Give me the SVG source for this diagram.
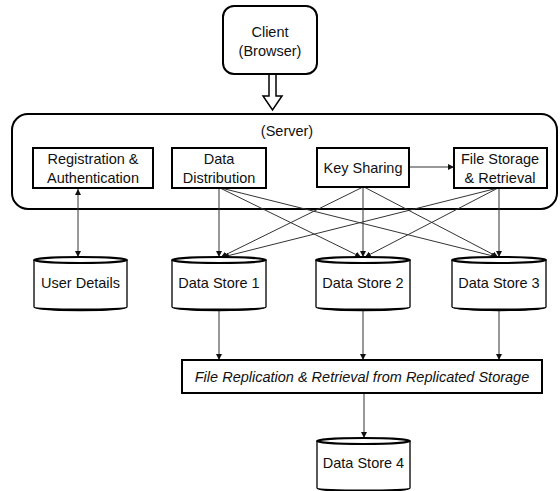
<svg xmlns="http://www.w3.org/2000/svg" width="560" height="491" viewBox="0 0 560 491">
<defs>
<style>
text{font-family:"Liberation Sans",Arial,sans-serif;font-size:14.5px;fill:#111;text-anchor:middle}
.it{font-style:italic;font-size:14.5px}
.box{fill:#fff;stroke:#000;stroke-width:2}
.cyl{fill:#fff;stroke:#000;stroke-width:1.3}
.ctop{fill:#fff;stroke:#000;stroke-width:2}
.con{stroke:#333;stroke-width:1;fill:none}
</style>
<marker id="ah" viewBox="0 0 10 10" refX="10" refY="5" markerWidth="6" markerHeight="6" markerUnits="userSpaceOnUse" orient="auto-start-reverse">
<path d="M0,0 L10,5 L0,10 Z" fill="#111"/>
</marker>
</defs>
<rect width="560" height="491" fill="#fff"/>

<g id="server">
<rect x="12" y="114" width="545" height="95" rx="16" fill="#fff" stroke="#000" stroke-width="2"/>
<text x="287" y="136">(Server)</text>
</g>

<g id="connectors">
<path d="M269,74 V96 H263 L272.5,110 L282,96 H276 V74" fill="#fff" stroke="#000" stroke-width="1.5"/>
<line class="con" x1="78" y1="189" x2="78" y2="257" marker-start="url(#ah)" marker-end="url(#ah)"/>
<line class="con" x1="219" y1="188" x2="219" y2="257" marker-end="url(#ah)"/>
<line class="con" x1="220" y1="188" x2="361" y2="257" marker-end="url(#ah)"/>
<line class="con" x1="221" y1="188" x2="497" y2="257" marker-end="url(#ah)"/>
<line class="con" x1="363" y1="187" x2="221" y2="257" marker-end="url(#ah)"/>
<line class="con" x1="363" y1="187" x2="363" y2="257" marker-end="url(#ah)"/>
<line class="con" x1="364" y1="187" x2="498" y2="257" marker-end="url(#ah)"/>
<line class="con" x1="498" y1="188" x2="223" y2="257" marker-end="url(#ah)"/>
<line class="con" x1="498" y1="188" x2="365" y2="257" marker-end="url(#ah)"/>
<line class="con" x1="499" y1="188" x2="499" y2="257" marker-end="url(#ah)"/>
<line class="con" x1="409" y1="167" x2="454" y2="167" marker-end="url(#ah)"/>
<line class="con" x1="219" y1="310" x2="219" y2="360" marker-end="url(#ah)"/>
<line class="con" x1="363" y1="310" x2="363" y2="360" marker-end="url(#ah)"/>
<line class="con" x1="499" y1="310" x2="499" y2="360" marker-end="url(#ah)"/>
<line class="con" x1="364" y1="393" x2="364" y2="438" marker-end="url(#ah)"/>
</g>

<g id="client">
<rect x="223" y="6" width="94" height="68" rx="11" class="box"/>
<text x="270" y="37">Client</text>
<text x="270" y="56">(Browser)</text>
</g>

<g id="registration">
<rect x="33" y="148" width="120" height="40" class="box"/>
<text x="93" y="164">Registration &amp;</text>
<text x="93" y="183">Authentication</text>
</g>

<g id="data-distribution">
<rect x="172" y="148" width="94" height="40" class="box"/>
<text x="219" y="164">Data</text>
<text x="219" y="183">Distribution</text>
</g>

<g id="key-sharing">
<rect x="317" y="148" width="92" height="39" class="box"/>
<text x="363" y="173">Key Sharing</text>
</g>

<g id="file-storage">
<rect x="454" y="148" width="93" height="40" class="box"/>
<text x="500" y="164">File Storage</text>
<text x="500" y="183">&amp; Retrieval</text>
</g>

<g id="user-details">
<path class="cyl" d="M34,260 V307 A46.5,3.5 0 0 0 127,307 V260"/>
<path d="M34,307 A46.5,4 0 0 0 127,307 A46.5,1.5 0 0 1 34,307 Z" fill="#000"/>
<ellipse class="ctop" cx="80.5" cy="260" rx="46.5" ry="3"/>
<text x="80.5" y="288">User Details</text>
</g>

<g id="data-store-1">
<path class="cyl" d="M172,260 V307 A47,3.5 0 0 0 266,307 V260"/>
<path d="M172,307 A47,4 0 0 0 266,307 A47,1.5 0 0 1 172,307 Z" fill="#000"/>
<ellipse class="ctop" cx="219" cy="260" rx="47" ry="3"/>
<text x="219" y="288">Data Store 1</text>
</g>

<g id="data-store-2">
<path class="cyl" d="M316,260 V307 A47,3.5 0 0 0 410,307 V260"/>
<path d="M316,307 A47,4 0 0 0 410,307 A47,1.5 0 0 1 316,307 Z" fill="#000"/>
<ellipse class="ctop" cx="363" cy="260" rx="47" ry="3"/>
<text x="363" y="288">Data Store 2</text>
</g>

<g id="data-store-3">
<path class="cyl" d="M452,260 V307 A47,3.5 0 0 0 546,307 V260"/>
<path d="M452,307 A47,4 0 0 0 546,307 A47,1.5 0 0 1 452,307 Z" fill="#000"/>
<ellipse class="ctop" cx="499" cy="260" rx="47" ry="3"/>
<text x="499" y="288">Data Store 3</text>
</g>

<g id="file-replication">
<rect x="182" y="360" width="360" height="33" class="box"/>
<text class="it" x="362" y="382">File Replication &amp; Retrieval from Replicated Storage</text>
</g>

<g id="data-store-4">
<path class="cyl" d="M317,441 V488 A46.5,3.5 0 0 0 410,488 V441"/>
<path d="M317,488 A46.5,4 0 0 0 410,488 A46.5,1.5 0 0 1 317,488 Z" fill="#000"/>
<ellipse class="ctop" cx="363.5" cy="441" rx="46.5" ry="3"/>
<text x="363.5" y="468">Data Store 4</text>
</g>
</svg>
